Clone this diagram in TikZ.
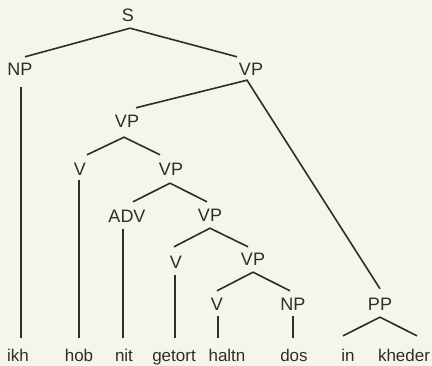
\documentclass[tikz,border=0pt]{standalone}
\usepackage{fontspec}
\setmainfont{Liberation Sans}
\usetikzlibrary{calc}
\definecolor{bg}{RGB}{245,245,235}
\definecolor{ink}{RGB}{45,45,45}
\tikzset{
  lbl/.style={inner xsep=0pt, inner ysep=6pt, text height=12pt, text depth=0pt, anchor=center, text=ink, font=\fontsize{18}{21}\selectfont},
  word/.style={inner xsep=0pt, inner ysep=11pt, text height=13pt, text depth=0pt, anchor=base, text=ink, font=\fontsize{17}{20}\selectfont},
  br/.style={draw=ink, line width=1.6pt}
}
\begin{document}
\begin{tikzpicture}[x=1pt,y=-1pt]
\fill[bg] (0,0) rectangle (432,366);
\useasboundingbox (0,0) rectangle (432,366);
% labels
\node[lbl] (S) at (128,16) {S};
\node[lbl] (NPa) at (20,70) {NP};
\node[lbl] (VPa) at (251,70) {VP};
\node[lbl] (VPb) at (127,122) {VP};
\node[lbl] (Vb) at (80,170) {V};
\node[lbl] (VPc) at (171,170) {VP};
\node[lbl] (ADV) at (127,217) {ADV};
\node[lbl] (VPd) at (210,216) {VP};
\node[lbl] (Vd) at (176,263) {V};
\node[lbl] (VPe) at (253,260) {VP};
\node[lbl] (Ve) at (217,305) {V};
\node[lbl] (NPe) at (293,305) {NP};
\node[lbl] (PP) at (380,305) {PP};
% words
\node[word] (ikh) at (18,362) {ikh};
\node[word] (hob) at (79,362) {hob};
\node[word] (nit) at (124,362) {nit};
\node[word] (getort) at (174,362) {getort};
\node[word] (haltn) at (227,362) {haltn};
\node[word] (dos) at (294,362) {dos};
\node[word] (in) at (348,362) {in};
\node[word] (kheder) at (404,362) {kheder};
% branches
\draw[br] ($(NPa.north)+(5,-1)$) -- ($(S.south)+(2,0)$) -- ($(VPa.north)+(-14,-1)$);
\draw[br] ($(VPb.north)+(9,-2)$) -- ($(VPa.south)+(-4,-2)$) -- ($(PP.north)+(0,-4)$);
\draw[br] ($(NPa.south)+(1,5)$) -- ($(ikh.north)+(3,0)$);
\draw[br] ($(Vb.north)+(7,-3)$) -- ($(VPb.south)+(-3,3)$) -- ($(VPc.north)+(-11,-3)$);
\draw[br] ($(Vb.south)+(-1,-2)$) -- (hob.north);
\draw[br] ($(ADV.north)+(6,-3)$) -- ($(VPc.south)+(-1,1)$) -- ($(VPd.north)+(-3,-2)$);
\draw[br] ($(ADV.south)+(-4,0)$) -- ($(nit.north)+(-1,0)$);
\draw[br] ($(Vd.north)+(-2,-4)$) -- (VPd.south) -- ($(VPe.north)+(-5,-1)$);
\draw[br] ($(Vd.south)+(-1,0)$) -- ($(getort.north)+(1,0)$);
\draw[br] ($(Ve.north)+(0,-2)$) -- (VPe.south) -- ($(NPe.north)+(-3,-2)$);
\draw[br] ($(Ve.south)+(1,-1)$) -- ($(haltn.north)+(-9,0)$);
\draw[br] ($(NPe.south)+(0,-1)$) -- ($(dos.north)+(-1,0)$);
\draw[br] ($(in.north)+(-5,-2)$) -- (PP.south) -- ($(kheder.north)+(13,-2)$);
\end{tikzpicture}
\end{document}
